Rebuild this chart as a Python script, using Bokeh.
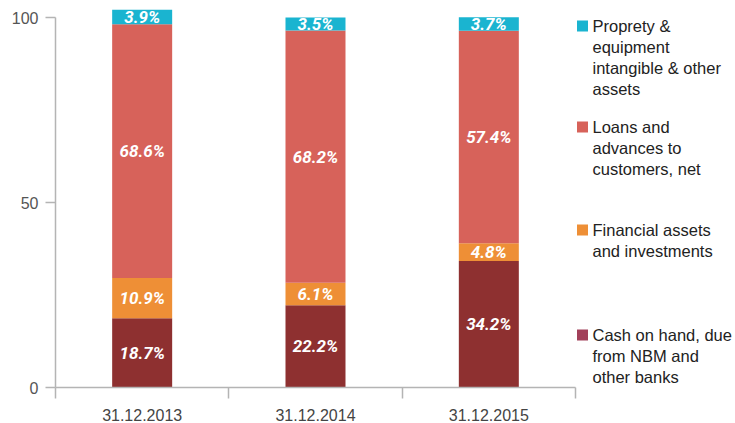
from bokeh.plotting import figure
from bokeh.models import Range1d, FixedTicker, ColumnDataSource
from bokeh.embed import file_html
from bokeh.resources import INLINE
from bokeh.core.properties import value

dates = ["31.12.2013", "31.12.2014", "31.12.2015"]
cash = [18.7, 22.2, 34.2]
financial = [10.9, 6.1, 4.8]
loans = [68.6, 68.2, 57.4]
property_assets = [3.9, 3.5, 3.7]
stack_keys = ["cash", "financial", "loans", "property"]
legend_labels = [
    "Proprety &\nequipment\nintangible & other\nassets",
    "Loans and\nadvances to\ncustomers, net",
    "Financial assets\nand investments",
    "Cash on hand, due\nfrom NBM and\nother banks",
]
y_ticks = [0, 50, 100]

colors = ["#8e3030", "#ee8f36", "#d7625a", "#1ab4d0"]
legend_colors = ["#1ab4d0", "#d7625a", "#ee8f36", "#a2405a"]

W, H = 735, 423
left, bottom_px = 55, 387
px_x = 173.33   # pixels per category slot
px_y = 3.7      # pixels per percent

xpos = [i + 0.5 for i in range(len(dates))]
series = [cash, financial, loans, property_assets]
src = ColumnDataSource(dict(x=xpos, cash=cash, financial=financial,
                            loans=loans, property=property_assets))

p = figure(width=W, height=H, output_backend="svg", toolbar_location=None,
           x_range=Range1d(0, (W - left) / px_x),
           y_range=Range1d(0, bottom_px / px_y),
           min_border_left=left, min_border_right=0, min_border_top=0,
           min_border_bottom=H - bottom_px, outline_line_color=None)
p.xgrid.visible = False
p.ygrid.visible = False

p.vbar_stack(stack_keys, x="x", width=60 / px_x, color=colors,
             line_color=None, source=src)

# segment labels
lx, ly, lt = [], [], []
for i, x in enumerate(xpos):
    base = 0.0
    for s in series:
        v = s[i]
        lx.append(x)
        ly.append(base + v / 2)
        lt.append(f"{v:.1f}%")
        base += v
p.text(x=lx, y=ly, text=lt, text_align="center", text_baseline="middle",
       text_font=value("Roboto"), text_font_style="bold italic",
       text_font_size="17px", text_color="white")

# axes
ax = p.xaxis[0]
ax.ticker = FixedTicker(ticks=xpos, minor_ticks=list(range(len(dates) + 1)))
ax.major_label_overrides = {x: d for x, d in zip(xpos, dates)}
ax.bounds = (0, len(dates))
ax.axis_line_color = "#b4b4b4"
ax.axis_line_width = 1.5
ax.major_tick_line_color = None
ax.major_tick_out = 0
ax.major_tick_in = 0
ax.minor_tick_line_color = "#b4b4b4"
ax.minor_tick_line_width = 1.5
ax.minor_tick_out = 11
ax.minor_tick_in = 0
ax.major_label_standoff = 10
ax.major_label_text_font = "Liberation Sans"
ax.major_label_text_font_size = "16px"
ax.major_label_text_color = "#444444"

ay = p.yaxis[0]
ay.ticker = FixedTicker(ticks=y_ticks, minor_ticks=[])
ay.bounds = (0, 100)
ay.axis_line_color = "#b4b4b4"
ay.axis_line_width = 1.5
ay.major_tick_line_color = "#b4b4b4"
ay.major_tick_line_width = 1.5
ay.major_tick_out = 10
ay.major_tick_in = 0
ay.minor_tick_line_color = None
ay.major_label_standoff = 7
ay.major_label_text_font = "Liberation Sans"
ay.major_label_text_font_size = "16px"
ay.major_label_text_color = "#555555"

# legend (drawn manually so the swatch sits beside the first line)
legend_top_px = [20, 121, 224, 329]
sw_x = (582 - left) / px_x
tx_x = (592 - left) / px_x
p.scatter(x=[sw_x] * 4, y=[(bottom_px - t - 5.5) / px_y for t in legend_top_px],
          marker="square", size=11, color=legend_colors, line_color=None)
p.text(x=[tx_x] * 4, y=[(bottom_px - t + 3.5) / px_y for t in legend_top_px],
       text=legend_labels, text_align="left", text_baseline="top",
       text_font=value("Liberation Sans"), text_font_size="16.5px",
       text_line_height=1.17, text_color="#222222")

open("out.html", "w").write(file_html(p, INLINE))
